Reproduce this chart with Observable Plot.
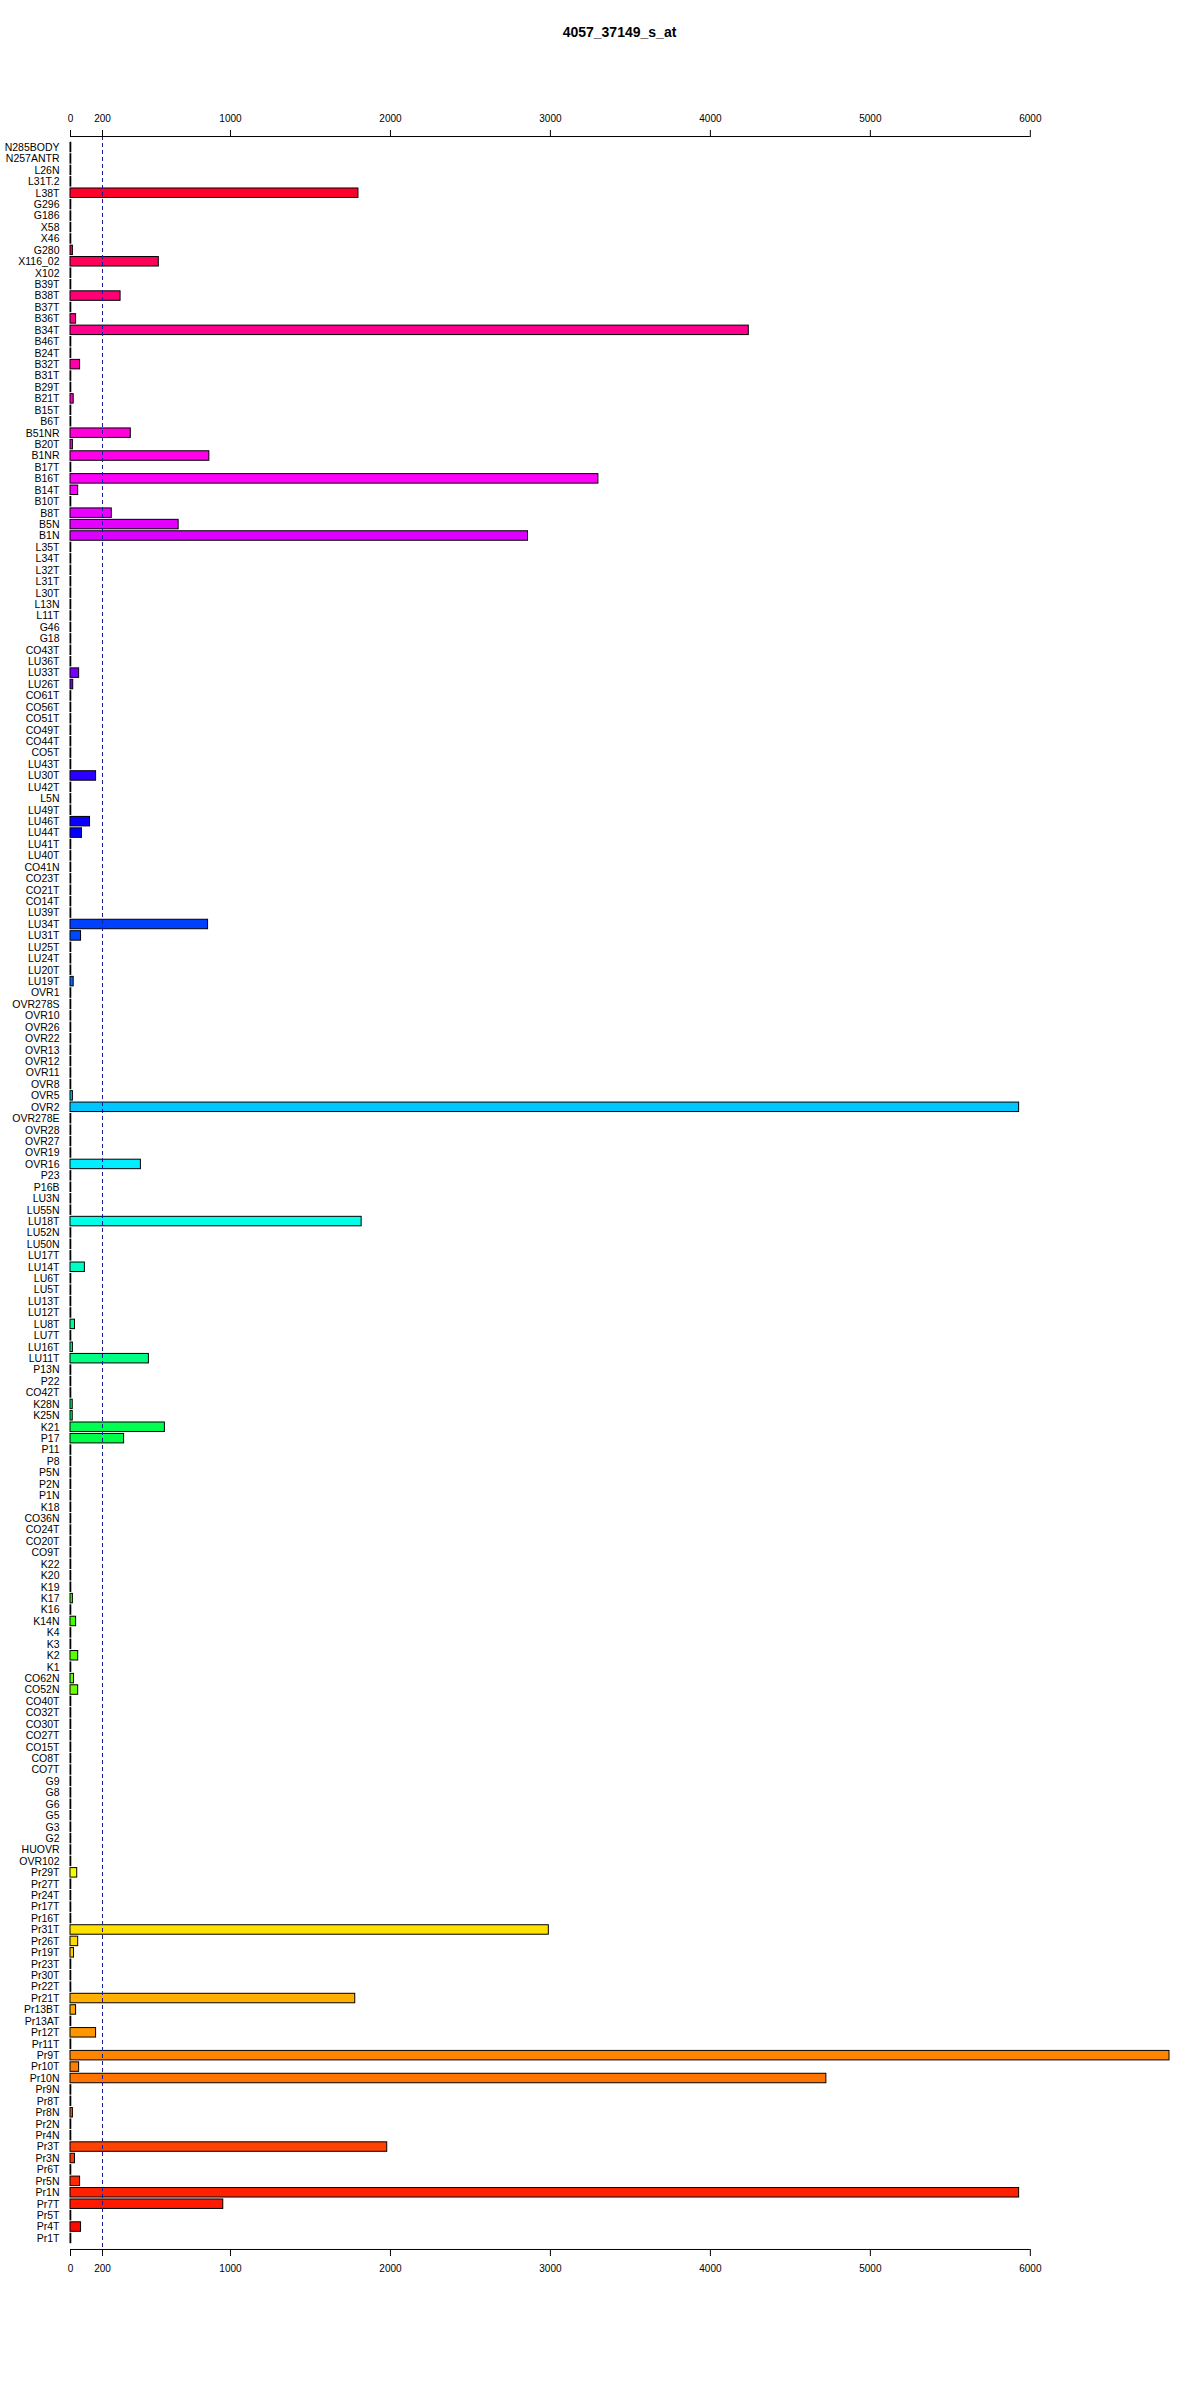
<!DOCTYPE html>
<html>
<head>
<meta charset="utf-8">
<script src="https://cdn.jsdelivr.net/npm/d3@7"></script>
<script src="https://cdn.jsdelivr.net/npm/@observablehq/plot@0.6"></script>
<style>
  body { margin: 0; background: #fff; font-family: "Liberation Sans", Arial, sans-serif; }
  #title { box-sizing: border-box; height: 60px; margin-left: 70px; width: 1099px; padding-top: 24px;
           text-align: center; font-size: 14px; line-height: 16px; font-weight: bold; color: #000; }
</style>
</head>
<body>
<div id="title">4057_37149_s_at</div>
<div id="chart"></div>
<script>
const categories = [
  "N285BODY","N257ANTR","L26N","L31T.2","L38T","G296","G186","X58","X46","G280",
  "X116_02","X102","B39T","B38T","B37T","B36T","B34T","B46T","B24T","B32T",
  "B31T","B29T","B21T","B15T","B6T","B51NR","B20T","B1NR","B17T","B16T",
  "B14T","B10T","B8T","B5N","B1N","L35T","L34T","L32T","L31T","L30T",
  "L13N","L11T","G46","G18","CO43T","LU36T","LU33T","LU26T","CO61T","CO56T",
  "CO51T","CO49T","CO44T","CO5T","LU43T","LU30T","LU42T","L5N","LU49T","LU46T",
  "LU44T","LU41T","LU40T","CO41N","CO23T","CO21T","CO14T","LU39T","LU34T","LU31T",
  "LU25T","LU24T","LU20T","LU19T","OVR1","OVR278S","OVR10","OVR26","OVR22","OVR13",
  "OVR12","OVR11","OVR8","OVR5","OVR2","OVR278E","OVR28","OVR27","OVR19","OVR16",
  "P23","P16B","LU3N","LU55N","LU18T","LU52N","LU50N","LU17T","LU14T","LU6T",
  "LU5T","LU13T","LU12T","LU8T","LU7T","LU16T","LU11T","P13N","P22","CO42T",
  "K28N","K25N","K21","P17","P11","P8","P5N","P2N","P1N","K18",
  "CO36N","CO24T","CO20T","CO9T","K22","K20","K19","K17","K16","K14N",
  "K4","K3","K2","K1","CO62N","CO52N","CO40T","CO32T","CO30T","CO27T",
  "CO15T","CO8T","CO7T","G9","G8","G6","G5","G3","G2","HUOVR",
  "OVR102","Pr29T","Pr27T","Pr24T","Pr17T","Pr16T","Pr31T","Pr26T","Pr19T","Pr23T",
  "Pr30T","Pr22T","Pr21T","Pr13BT","Pr13AT","Pr12T","Pr11T","Pr9T","Pr10T","Pr10N",
  "Pr9N","Pr8T","Pr8N","Pr2N","Pr4N","Pr3T","Pr3N","Pr6T","Pr5N","Pr1N",
  "Pr7T","Pr5T","Pr4T","Pr1T"
];
const values = [
  5,5,5,5,1800,5,5,5,5,15,
  552,5,5,313,5,35,4240,5,5,60,
  5,5,20,5,5,377,15,868,5,3300,
  48,5,258,676,2860,5,5,5,5,5,
  5,5,5,5,5,5,54,17,5,5,
  5,5,5,5,5,160,5,5,5,122,
  72,5,5,5,5,5,5,5,860,66,
  5,5,5,20,5,5,5,5,5,5,
  5,5,5,15,5930,5,5,5,5,440,
  5,5,5,5,1820,5,5,5,90,5,
  5,5,5,28,5,15,490,5,5,5,
  14,14,590,335,5,5,5,5,5,5,
  5,5,5,5,5,5,5,15,5,35,
  5,5,48,5,22,48,5,5,5,5,
  5,5,5,5,5,5,5,5,5,5,
  5,42,5,5,5,5,2990,48,22,5,
  5,5,1780,35,5,160,5,6870,54,4725,
  5,5,15,5,5,1980,28,5,60,5930,
  955,5,66,5
];
const xTicks = [0, 200, 1000, 2000, 3000, 4000, 5000, 6000];
const threshold = [200];

const n = categories.length;
// rainbow palette: first category drawn at the bottom gets hue 0
const data = categories.map((name, i) => ({
  name,
  value: values[i],
  color: d3.hsl(((n - 1 - i) / n) * 360, 1, 0.5).formatHex()
}));

const chart = Plot.plot({
  width: 1200,
  height: 2340,
  marginTop: 76,
  marginBottom: 151,
  marginLeft: 70,
  marginRight: 31,
  style: { fontFamily: "Liberation Sans, Arial, sans-serif", fontSize: "10px", background: "#fff" },
  x: { domain: [0, 6870], axis: null },
  y: { domain: categories, paddingInner: 0.17, paddingOuter: 0.55, axis: null },
  color: { type: "identity" },
  marks: [
    Plot.barX(data, { x: "value", y: "name", fill: "color", stroke: "black", strokeWidth: 1 }),
    Plot.ruleX(threshold, { stroke: "#1c1c9c", strokeDasharray: "4,3", strokeWidth: 1 }),
    Plot.ruleY([categories[0]], { x1: 0, x2: 6000, dy: -11, stroke: "black" }),
    Plot.ruleY([categories[n - 1]], { x1: 0, x2: 6000, dy: 11, stroke: "black" }),
    Plot.axisX({ anchor: "top", ticks: xTicks, tickSize: 7, tickPadding: 8, tickFormat: d => String(d), label: null, fontSize: 10 }),
    Plot.axisX({ anchor: "bottom", ticks: xTicks, tickSize: 7, tickPadding: 8, tickFormat: d => String(d), label: null, fontSize: 10 }),
    Plot.axisY({ anchor: "left", tickSize: 0, tickPadding: 11, label: null, fontSize: 10.5 })
  ]
});
document.getElementById("chart").appendChild(chart);
</script>
</body>
</html>
